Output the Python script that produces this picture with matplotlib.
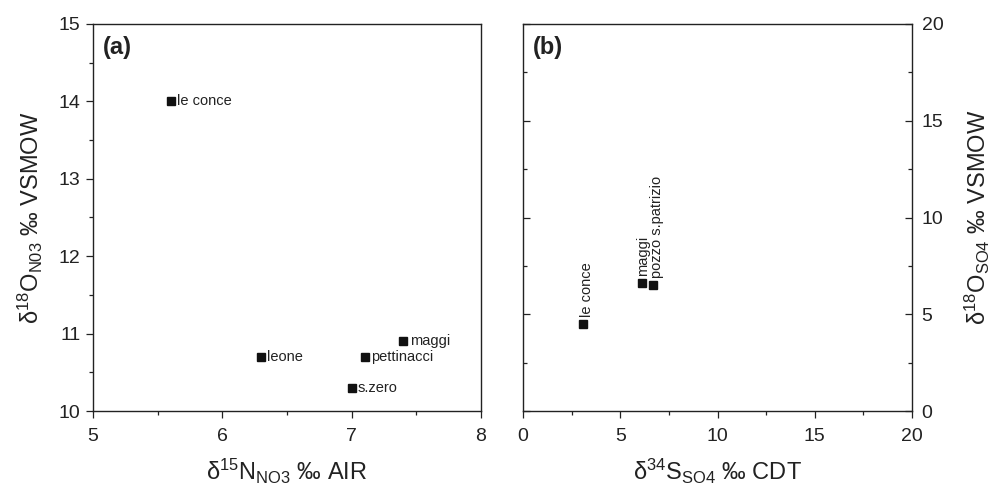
import matplotlib
matplotlib.use("Agg")
import matplotlib.pyplot as plt
from matplotlib.ticker import MultipleLocator

plt.rcParams['font.family'] = ['Liberation Sans', 'DejaVu Sans']
plt.rcParams['mathtext.fontset'] = 'custom'
plt.rcParams['mathtext.rm'] = 'Liberation Sans'
plt.rcParams['mathtext.it'] = 'Liberation Sans:italic'
plt.rcParams['mathtext.bf'] = 'Liberation Sans:bold'

# Panel (a): nitrate isotopes
a_sites = ["le conce", "leone", "pettinacci", "maggi", "s.zero"]
a_d15N = [5.6, 6.3, 7.1, 7.4, 7.0]
a_d18O = [14.0, 10.7, 10.7, 10.9, 10.3]

# Panel (b): sulphate isotopes
b_sites = ["le conce", "maggi", "pozzo s.patrizio"]
b_d34S = [3.1, 6.1, 6.7]
b_d18O = [4.5, 6.6, 6.5]

W, H = 1002, 488
fig = plt.figure(figsize=(W / 100, H / 100), dpi=100)

def rect(x0, x1, ytop, ybot):
    return [x0 / W, (H - ybot) / H, (x1 - x0) / W, (ybot - ytop) / H]

ax1 = fig.add_axes(rect(93, 481, 24, 411))
ax2 = fig.add_axes(rect(523, 912, 24, 411))

col = '#111111'
tcol = '#222222'
tick_fs = 14
lab_fs = 17
pt_fs = 10.5

# ---- panel (a)
ax1.plot(a_d15N, a_d18O, 's', color=col, markersize=5.5, linestyle='none')
for s, x, y in zip(a_sites, a_d15N, a_d18O):
    ax1.annotate(s, (x, y), xytext=(4.5, 0), textcoords='offset points',
                 va='center', ha='left', fontsize=pt_fs, color=tcol)
ax1.set_xlim(5, 8)
ax1.set_ylim(10, 15)
ax1.xaxis.set_major_locator(MultipleLocator(1))
ax1.xaxis.set_minor_locator(MultipleLocator(0.5))
ax1.yaxis.set_major_locator(MultipleLocator(1))
ax1.yaxis.set_minor_locator(MultipleLocator(0.5))
ax1.tick_params(which='both', direction='out', labelsize=tick_fs, width=0.9, colors=tcol)
ax1.tick_params(which='major', length=5)
ax1.tick_params(which='minor', length=3)
ax1.tick_params(axis='x', which='major', pad=7)
ax1.tick_params(axis='y', which='major', pad=4)
ax1.set_xlabel('δ$^{15}$N$_{\\mathrm{NO3}}$ ‰ AIR', fontsize=lab_fs, labelpad=9, color=tcol)
ax1.set_ylabel('δ$^{18}$O$_{\\mathrm{N03}}$ ‰ VSMOW', fontsize=lab_fs, labelpad=10, color=tcol)
ax1.text(0.025, 0.968, '(a)', transform=ax1.transAxes, fontsize=17, fontweight='bold',
         va='top', ha='left', color=tcol)

# ---- panel (b)
ax2.plot(b_d34S, b_d18O, 's', color=col, markersize=5.5, linestyle='none')
b_offsets = [(2.5, 5), (1.0, 5), (3.0, 5)]
for s, x, y, off in zip(b_sites, b_d34S, b_d18O, b_offsets):
    ax2.annotate(s, (x, y), xytext=off, textcoords='offset points',
                 va='bottom', ha='center', rotation=90, fontsize=pt_fs, color=tcol)
ax2.set_xlim(0, 20)
ax2.set_ylim(0, 20)
ax2.xaxis.set_major_locator(MultipleLocator(5))
ax2.xaxis.set_minor_locator(MultipleLocator(2.5))
ax2.yaxis.set_major_locator(MultipleLocator(5))
ax2.yaxis.set_minor_locator(MultipleLocator(2.5))
ax2.yaxis.tick_right()
ax2.yaxis.set_label_position('right')
ax2.tick_params(axis='x', which='both', direction='out', labelsize=tick_fs, width=0.9, colors=tcol)
ax2.tick_params(axis='y', which='both', direction='in', left=True, right=True,
                labelleft=False, labelright=True, labelsize=tick_fs, width=0.9, colors=tcol)
ax2.tick_params(which='major', length=5)
ax2.tick_params(which='minor', length=3)
ax2.tick_params(axis='x', which='major', pad=7)
ax2.tick_params(axis='y', which='major', pad=7)
ax2.set_xlabel('δ$^{34}$S$_{\\mathrm{SO4}}$ ‰ CDT', fontsize=lab_fs, labelpad=9, color=tcol)
ax2.set_ylabel('δ$^{18}$O$_{\\mathrm{SO4}}$ ‰ VSMOW', fontsize=lab_fs, labelpad=14, color=tcol,
               rotation=90)
ax2.text(0.025, 0.968, '(b)', transform=ax2.transAxes, fontsize=17, fontweight='bold',
         va='top', ha='left', color=tcol)

for ax in (ax1, ax2):
    for sp in ax.spines.values():
        sp.set_linewidth(1.0)
        sp.set_color(tcol)

fig.savefig('out.png', dpi=100)
